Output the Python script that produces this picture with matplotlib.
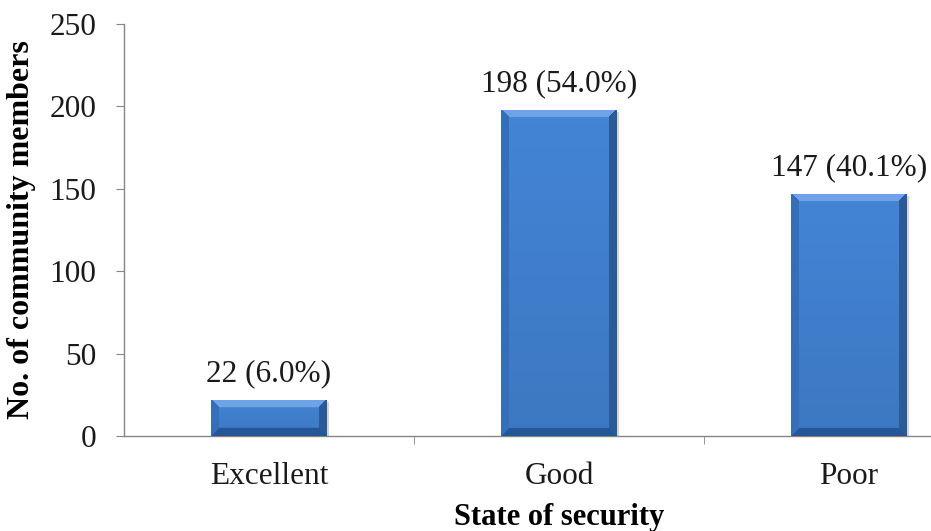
import numpy as np
import matplotlib
matplotlib.use('Agg')
import matplotlib.pyplot as plt

### data
categories = ['Excellent', 'Good', 'Poor']
counts = [22, 198, 147]
percents = [6.0, 54.0, 40.1]

plt.rcParams['font.family'] = ['Liberation Serif', 'DejaVu Serif']

W, H = 931, 531
AXW = 870.  # plot area runs past the right edge of the picture
fig = plt.figure(figsize=(W / 100., H / 100.), dpi=100)
ax = fig.add_axes([124. / W, 95. / H, AXW / W, 412. / H])

x = np.arange(len(categories))
bw = 0.4
bars = ax.bar(x, counts, width=bw, color='#4080d0', edgecolor='none', zorder=2)

ax.set_xlim(-0.5, 2.5)
ax.set_ylim(0, 250)
fig.canvas.draw()

### bevel shading: build a pixel image for each bar, clipped to the bar
def bevel_img(wpx, hpx, b=8):
    wpx = max(int(wpx), 2)
    hpx = max(int(hpx), 2)
    base = np.array([0x42, 0x82, 0xd2]) / 255.
    light = np.array([0x6c, 0xa4, 0xe6]) / 255.
    dark = np.array([0x26, 0x56, 0x98]) / 255.
    side = np.array([0x35, 0x6e, 0xba]) / 255.
    img = np.tile(base, (hpx, wpx, 1))
    yy, xx = np.mgrid[0:hpx, 0:wpx]
    top = yy < b
    img[top] = light
    bot = yy >= hpx - b
    img[bot] = dark
    left = (xx < b) & (xx <= yy) & (xx <= hpx - 1 - yy)
    right = (xx >= wpx - b) & (wpx - 1 - xx <= yy) & (wpx - 1 - xx <= hpx - 1 - yy)
    img[left] = side
    img[right] = side * 0.82
    t = (yy / float(hpx))[..., None]
    face = ~(top | bot | left | right)
    img[face] = (base * (1.02 - 0.10 * t))[face]
    return np.clip(img, 0, 1)

for rect in bars:
    x0, y0 = rect.get_x(), rect.get_y()
    x1, y1 = x0 + rect.get_width(), y0 + rect.get_height()
    p0 = ax.transData.transform((x0, y0))
    p1 = ax.transData.transform((x1, y1))
    img = bevel_img(p1[0] - p0[0], p1[1] - p0[1])
    im = ax.imshow(img, extent=(x0, x1, y0, y1), aspect='auto', zorder=3,
                   interpolation='bilinear')
    im.set_clip_path(rect)
    # light shadow
    ax.bar(rect.get_x() + rect.get_width() / 2. + 0.008, rect.get_height(),
           width=rect.get_width(), bottom=-1.5, color='#d4d4d4', zorder=1)

ax.set_xlim(-0.5, 2.5)
ax.set_ylim(0, 250)

for xi, c, p in zip(x, counts, percents):
    ax.annotate('%d (%.1f%%)' % (c, p), (xi, c), xytext=(0, 8), textcoords='offset points',
                ha='center', va='bottom', fontsize=22.5, color='#1a1a1a')

for s in ['top', 'right']:
    ax.spines[s].set_visible(False)
for s in ['left', 'bottom']:
    ax.spines[s].set_color('#868686')
    ax.spines[s].set_linewidth(1.0)

ax.set_yticks(np.arange(0, 251, 50))
ax.tick_params(axis='y', direction='out', length=6, color='#868686', labelsize=22.5,
               labelcolor='#1a1a1a', pad=14)
ax.set_xticks(x)
ax.set_xticklabels(categories)
ax.tick_params(axis='x', which='major', length=0, labelsize=22.5, labelcolor='#1a1a1a', pad=19)
ax.set_xticks([0.5, 1.5], minor=True)
ax.tick_params(axis='x', which='minor', direction='out', length=6, color='#868686')

ax.set_ylabel('No. of community members', fontsize=23, fontweight='bold')
ax.yaxis.set_label_coords(-88. / AXW, 0.5)
ax.set_xlabel('State of security', fontsize=22, fontweight='bold')
ax.xaxis.set_label_coords(0.5, -67. / 412.)

plt.savefig('out.png', dpi=100)
